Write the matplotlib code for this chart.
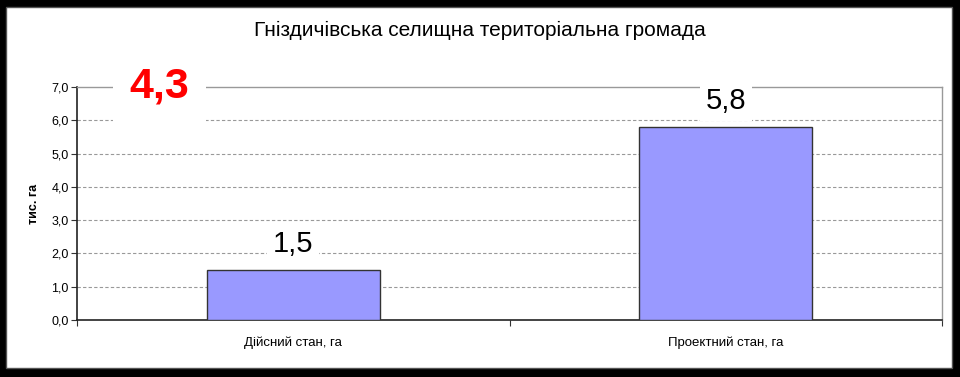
import matplotlib
matplotlib.use("Agg")
import matplotlib.pyplot as plt
from matplotlib.patches import Rectangle

plt.rcParams['font.family'] = ['Liberation Sans', 'DejaVu Sans']

title = 'Гніздичівська селищна територіальна громада'
categories = ['Дійсний стан, га', 'Проектний стан, га']
values = [1.5, 5.8]
value_labels = ['1,5', '5,8']
diff_label = '4,3'
yticks = [0, 1, 2, 3, 4, 5, 6, 7]
ytick_labels = ['0,0', '1,0', '2,0', '3,0', '4,0', '5,0', '6,0', '7,0']
ylabel = 'тис. га'

W, H = 960, 377
fig = plt.figure(figsize=(W / 100, H / 100), dpi=100)
fig.patch.set_facecolor('black')
# white chart area inside the black frame
fig.patches.append(Rectangle((6 / W, (H - 368) / H), (952 - 6) / W, (368 - 7) / H,
                             transform=fig.transFigure, facecolor='white',
                             edgecolor='#555555', linewidth=1, zorder=-10))

ax = fig.add_axes([77 / W, (H - 320) / H, 865 / W, 233 / H])
ax.set_facecolor('white')

x = range(len(categories))
ax.bar(x, values, width=0.4, color='#9999FF', edgecolor='#333333', linewidth=1, zorder=3)

for xi, v, lab in zip(x, values, value_labels):
    ax.text(xi, v + 0.35, lab, ha='center', va='bottom', fontsize=21,
            bbox=dict(facecolor='white', edgecolor='none', pad=4), zorder=4)

# difference label, its white box hides part of the top border
ax.text(-0.31, 7.0, diff_label, ha='center', va='center', fontsize=31,
        fontweight='bold', color='#FF0000',
        bbox=dict(facecolor='white', edgecolor='none', pad=12), zorder=4)

ax.set_xlim(-0.5, 1.5)
ax.set_ylim(0, 7)
ax.set_yticks(yticks)
ax.set_yticklabels(ytick_labels, fontsize=9)
ax.set_xticks([-0.5, 0.5, 1.5])
ax.set_xticklabels([])
ax.set_xticks(list(x), minor=True)
ax.set_xticklabels(categories, minor=True, fontsize=9.5)
ax.tick_params(axis='x', which='minor', length=0, pad=12)
ax.tick_params(axis='x', which='major', length=4, direction='out', color='#333333')
ax.tick_params(axis='y', length=4, direction='out', color='#333333', pad=2)

for y in yticks[1:-1]:
    ax.axhline(y, color='#999999', linestyle=(0, (3, 2)), linewidth=0.8, zorder=1)

for side in ['top', 'right']:
    ax.spines[side].set_color('#999999')
    ax.spines[side].set_linewidth(1)
for side in ['left', 'bottom']:
    ax.spines[side].set_color('#222222')
    ax.spines[side].set_linewidth(1.2)

ax.set_ylabel(ylabel, fontsize=9, fontweight='bold', labelpad=8)
fig.text(480 / W, 1 - 30 / H, title, ha='center', va='center', fontsize=15)

fig.savefig('out.png', dpi=100, facecolor=fig.get_facecolor())
